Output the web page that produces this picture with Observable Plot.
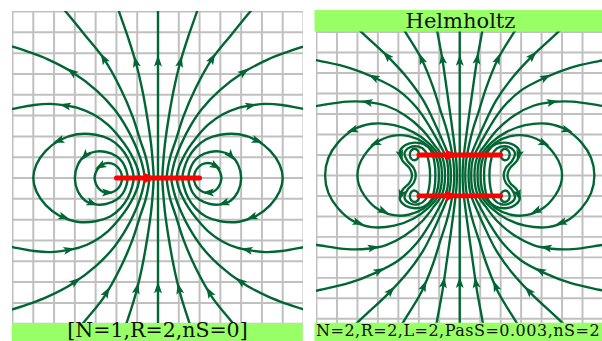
<!DOCTYPE html>
<html><head><meta charset="utf-8">
<script src="https://cdn.jsdelivr.net/npm/d3@7"></script>
<script src="https://cdn.jsdelivr.net/npm/@observablehq/plot@0.6"></script>
<style>
html,body{margin:0;padding:0;background:#fff;}
#root{position:relative;width:602px;height:341px;overflow:hidden;background:#fff;}
.panel{position:absolute;}
#overlay{position:absolute;left:0;top:0;}
</style></head><body><div id="root"></div>
<script>
// ---------- data (grid units; upper-right half of every field line, from the coil plane outward) ----------
const gridX = [-7,-6,-5,-4,-3,-2,-1,0,1,2,3,4,5,6,7];
const gridY = [-8,-7,-6,-5,-4,-3,-2,-1,0,1,2,3,4,5,6,7,8];

// Panel 1: single loop N=1, R=2
const loopCoilY = [0];
const loopOpen = [
  [[0,0],[0,8.6]],
  [[0.21,0],[0.24,0.6],[0.33,1.6],[0.5,2.8],[0.75,4.2],[1.07,5.56],[1.47,6.84],[1.875,8],[2.05,8.6]],
  [[0.42,0],[0.47,0.45],[0.6,1.05],[0.85,1.8],[1.22,2.95],[1.78,4.25],[2.6,5.72],[3.5,6.85],[4.44,8],[4.95,8.6]],
  [[0.64,0],[0.7,0.4],[0.85,0.95],[1.1,1.6],[1.5,2.4],[2.1,3.3],[2.95,4.2],[4.12,5.08],[5.3,5.7],[6.2,6.05],[7.0,6.31],[7.6,6.45]],
  [[0.9,0],[0.97,0.4],[1.15,0.85],[1.45,1.4],[1.85,1.95],[2.4,2.55],[3.1,3.05],[3.8,3.35],[4.44,3.48],[5.16,3.56],[5.96,3.51],[7.0,3.32],[7.6,3.2]]
];
const loopClosed = [
  [[1.17,0],[1.24,0.4],[1.45,0.95],[1.8,1.45],[2.3,1.85],[3.0,2.08],[3.9,2.1],[4.76,1.8],[5.4,1.3],[5.85,0.65],[6.0,0]],
  [[1.46,0],[1.52,0.35],[1.7,0.75],[2.0,1.05],[2.5,1.25],[3.0,1.27],[3.48,1.1],[3.85,0.65],[4.0,0]],
  [[1.73,0],[1.79,0.3],[1.97,0.55],[2.25,0.7],[2.55,0.7],[2.8,0.56],[2.98,0.3],[3.05,0]]
];
const loopSmall = [];
const loopArrowsUp = [[0,5.6],[1.07,5.56],[2.6,5.72],[4.12,5.08],[4.44,3.48],[4.76,1.8],[3.48,1.07],[2.76,0.59]];
const loopArrowsDown = [[0,-5.3],[1.09,-5.32],[2.53,-5.48],[3.97,-5.0],[4.3,-3.48],[4.54,-1.88],[3.17,-1.15],[2.45,-0.62]];

// Panel 2: Helmholtz N=2, R=2, L=2
const helmCoilY = [1,-1];
const helmOpen = [
  [[0,0],[0,8.6]],
  [[0.14,0],[0.16,0.6],[0.2,1.0],[0.3,1.8],[0.45,2.9],[0.62,4.1],[0.85,5.67],[1.1,7.03],[1.3,8.2]],
  [[0.27,0],[0.3,0.6],[0.36,1.0],[0.48,1.6],[0.66,2.3],[0.92,3.1],[1.3,4.3],[1.86,5.67],[2.68,7.03],[3.3,8.0]],
  [[0.43,0],[0.47,0.6],[0.56,1.0],[0.8,1.6],[1.2,2.5],[1.78,3.66],[2.58,4.78],[3.54,5.82],[4.84,7.03],[5.8,8.0]],
  [[0.56,0],[0.6,0.6],[0.72,1.0],[1.0,1.55],[1.45,2.35],[2.1,3.3],[3.0,4.15],[4.18,4.78],[5.4,5.25],[6.8,5.58],[7.5,5.72]],
  [[0.72,0],[0.77,0.6],[0.9,1.0],[1.25,1.5],[1.85,2.25],[2.7,2.95],[3.6,3.4],[4.5,3.58],[5.5,3.6],[6.8,3.42],[7.5,3.3]]
];
const helmClosed = [
  [[0.87,0],[0.92,0.6],[1.08,1.05],[1.55,1.6],[2.25,2.1],[3.2,2.45],[4.3,2.52],[5.22,2.22],[5.95,1.6],[6.42,0.85],[6.58,0]],
  [[1.02,0],[1.07,0.6],[1.25,1.1],[1.75,1.6],[2.5,1.92],[3.3,1.93],[4.1,1.58],[4.65,1.0],[4.93,0.45],[5.0,0]],
  [[1.19,0],[1.23,0.6],[1.4,1.2],[1.75,1.52],[2.2,1.6],[2.65,1.48],[2.93,1.15],[2.8,0.72],[2.45,0.35],[2.33,0]],
  [[1.45,0],[1.5,0.6],[1.68,1.18],[2.0,1.4],[2.45,1.36],[2.7,1.08],[2.55,0.7],[2.25,0.36],[2.15,0]]
];
const helmSmall = [
  [[2.0,1.0],[2.04,1.2],[2.2,1.3],[2.38,1.2],[2.44,1.0],[2.36,0.8],[2.2,0.74],[2.05,0.84],[2.0,1.0]]
];
const helmArrowsUp = [[0,5.59],[0.85,5.67],[1.86,5.67],[3.54,5.82],[4.18,4.78],[4.5,3.58],[5.22,2.22],[4.1,1.58],[2.9,1.0]];
const helmArrowsDown = [[0,-5.25],[0.85,-5.25],[1.78,-5.41],[3.3,-5.73],[3.94,-4.69],[4.26,-3.49],[4.98,-2.28],[3.78,-1.8],[2.82,-0.95]];

// current-direction arrowhead on each coil (x position along the coil)
const coilArrowX = -0.42;

// captions
const captionLeft = "[N=1,R=2,nS=0]";
const titleRight = "Helmholtz";
const captionRight = "N=2,R=2,L=2,PasS=0.003,nS=2";

// ---------- styles ----------
const GREEN = "#006633", RED = "#ff0000", GRID = "#c0c0c0", BAR = "#99ff66";

// ---------- helpers ----------
const mirY = P => P.map(([x,y]) => [x,-y]);
const mirX = P => P.map(([x,y]) => [-x,y]);
const fullLine = P => mirY(P).reverse().concat(P.slice(1));

// arrowhead shapes in pixels (pointing up before rotation)
const stealth = {
  draw(ctx) {
    ctx.moveTo(0, -6.5);
    ctx.lineTo(4, 5);
    ctx.lineTo(0, 2.5);
    ctx.lineTo(-4, 5);
    ctx.closePath();
  }
};
const redHead = {
  draw(ctx) {
    ctx.moveTo(0, -7);
    ctx.lineTo(5.5, 6);
    ctx.lineTo(0, 4);
    ctx.lineTo(-5.5, 6);
    ctx.closePath();
  }
};

function buildPanel(cfg) {
  const open = [], closed = [];
  for (const P of cfg.open) { const L = fullLine(P); open.push(L); if (P[0][0] !== 0) open.push(mirX(L)); }
  for (const P of cfg.closed) { const L = fullLine(P).slice(0,-1); closed.push(L, mirX(L)); }
  for (const S of cfg.small) {
    const top = S.slice(0,-1);
    const bot = mirY(S).reverse().slice(0,-1);
    closed.push(top, bot, mirX(top), mirX(bot));
  }
  const rows = (arr, pre) => arr.flatMap((L,i) => L.map(([x,y]) => ({x, y, id: pre + i})));
  const openRows = rows(open, "o"), closedRows = rows(closed, "c");
  const polys = open.concat(closed.map(L => L.concat([L[0]])));
  const pts = cfg.arrowsUp.concat(cfg.arrowsDown);
  const allPts = pts.concat(pts.filter(p => p[0] !== 0).map(([x,y]) => [-x,y]));
  const arrows = allPts.map(([ax,ay]) => {
    let best = null;
    for (const L of polys) for (let i = 0; i < L.length-1; i++) {
      const [x1,y1] = L[i], [x2,y2] = L[i+1];
      const dx = x2-x1, dy = y2-y1, len2 = dx*dx+dy*dy || 1e-9;
      let t = ((ax-x1)*dx + (ay-y1)*dy)/len2; t = Math.max(0, Math.min(1, t));
      const px = x1+t*dx, py = y1+t*dy, d = (px-ax)**2 + (py-ay)**2;
      if (!best || d < best.d) best = {d, x: px, y: py, a: Math.atan2(dx, dy)*180/Math.PI};
    }
    return {x: best.x, y: best.y, angle: best.a};
  });
  const coils = cfg.coilY.map(y => ({x1: -2, x2: 2, y}));
  const coilHeads = cfg.coilY.map(y => ({x: coilArrowX, y, angle: 90}));
  return Plot.plot({
    width: 291, height: 333, margin: 0,
    x: {domain: [-7,7], axis: null},
    y: {domain: [-8,8], axis: null},
    marks: [
      Plot.ruleX(gridX, {stroke: GRID, strokeWidth: 2}),
      Plot.ruleY(gridY, {stroke: GRID, strokeWidth: 2}),
      Plot.line(openRows, {x: "x", y: "y", z: "id", curve: "catmull-rom", stroke: GREEN, strokeWidth: 2.4, clip: true}),
      Plot.line(closedRows, {x: "x", y: "y", z: "id", curve: "catmull-rom-closed", stroke: GREEN, strokeWidth: 2.4, clip: true}),
      Plot.dot(arrows, {x: "x", y: "y", rotate: "angle", symbol: stealth, r: 5, fill: GREEN, clip: true}),
      Plot.link(coils, {x1: "x1", x2: "x2", y1: "y", y2: "y", stroke: RED, strokeWidth: 5, strokeLinecap: "round"}),
      Plot.dot(coilHeads, {x: "x", y: "y", rotate: "angle", symbol: redHead, r: 7, fill: RED})
    ]
  });
}

const root = document.getElementById("root");
const p1 = buildPanel({open: loopOpen, closed: loopClosed, small: loopSmall, arrowsUp: loopArrowsUp, arrowsDown: loopArrowsDown, coilY: loopCoilY});
const w1 = document.createElement("div"); w1.className = "panel"; w1.style.left = "11.7px"; w1.style.top = "11px"; w1.appendChild(p1); root.appendChild(w1);
const p2 = buildPanel({open: helmOpen, closed: helmClosed, small: helmSmall, arrowsUp: helmArrowsUp, arrowsDown: helmArrowsDown, coilY: helmCoilY});
const w2 = document.createElement("div"); w2.className = "panel"; w2.style.left = "315.5px"; w2.style.top = "11px"; w2.appendChild(p2); root.appendChild(w2);

// caption / title bars
const NS = "http://www.w3.org/2000/svg";
const ov = document.createElementNS(NS, "svg");
ov.setAttribute("id", "overlay"); ov.setAttribute("width", 602); ov.setAttribute("height", 341);
function rect(x,y,w,h){ const r = document.createElementNS(NS,"rect"); r.setAttribute("x",x); r.setAttribute("y",y); r.setAttribute("width",w); r.setAttribute("height",h); r.setAttribute("fill",BAR); ov.appendChild(r); }
function text(s,x,y,size,anchor,ls){ const t = document.createElementNS(NS,"text"); t.textContent = s; t.setAttribute("x",x); t.setAttribute("y",y); t.setAttribute("font-family","DejaVu Serif"); t.setAttribute("font-size",size); t.setAttribute("text-anchor",anchor); t.setAttribute("fill","#111"); if (ls) t.setAttribute("letter-spacing", ls); ov.appendChild(t); }
rect(11.7, 323, 291, 20);
text(captionLeft, 157.5, 336.5, 20.5, "middle");
rect(314.5, 10, 290, 21.5);
text(titleRight, 460.5, 28.3, 21, "middle");
rect(314.5, 322.7, 290, 20);
text(captionRight, 316, 336, 16, "start", 0.5);
root.appendChild(ov);
</script></body></html>
